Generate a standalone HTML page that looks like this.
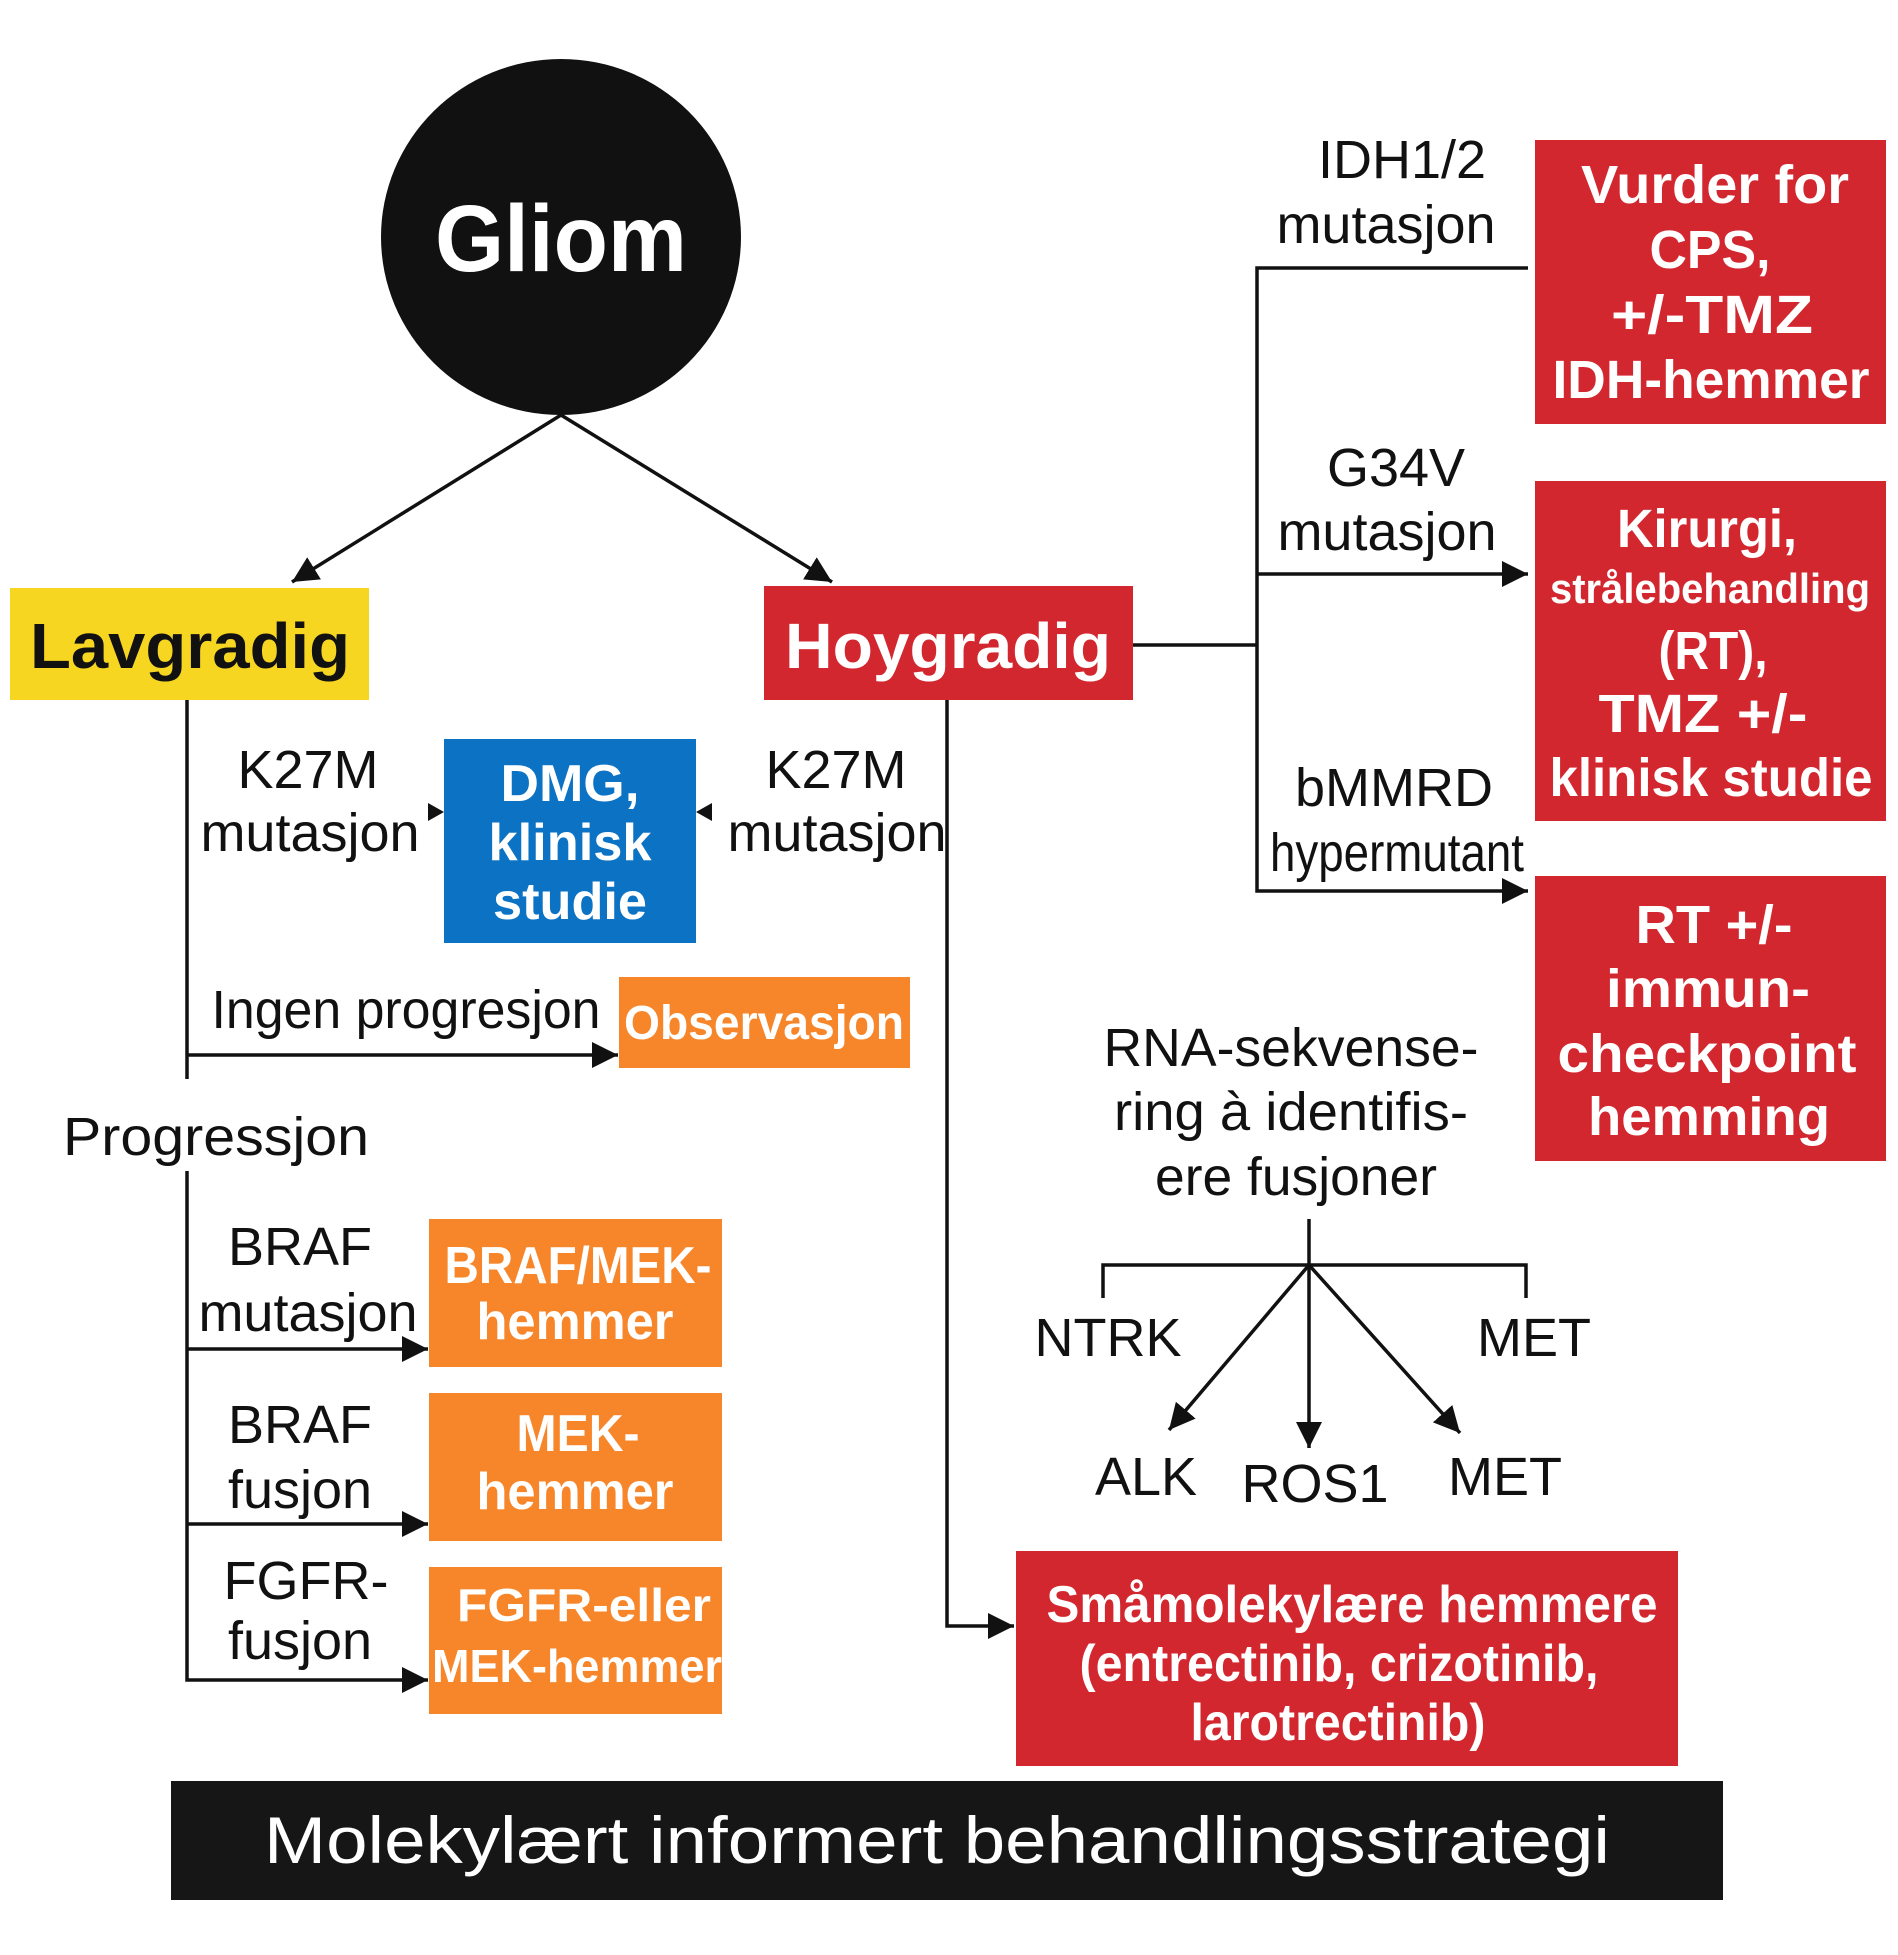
<!DOCTYPE html>
<html><head><meta charset="utf-8"><style>
html,body{margin:0;padding:0;background:#fff}
svg{display:block}
text{font-family:"Liberation Sans",sans-serif}
.l{font-size:54px;fill:#111;text-anchor:middle}
.b{font-size:52px;fill:#fff;font-weight:bold;text-anchor:middle}
</style></head><body>
<svg width="1898" height="1955" viewBox="0 0 1898 1955" xmlns="http://www.w3.org/2000/svg">
<defs>
<marker id="a" markerWidth="10" markerHeight="10" refX="9" refY="5" orient="auto" markerUnits="userSpaceOnUse" viewBox="0 0 10 10">
</marker>
<marker id="ar" viewBox="0 0 10 10" refX="10" refY="5" markerWidth="26" markerHeight="26" markerUnits="userSpaceOnUse" orient="auto"><path d="M0,0 L10,5 L0,10 z" fill="#111"/></marker>
</defs>
<g stroke="#111" stroke-width="3.5" fill="none">
<line x1="561" y1="415" x2="292" y2="582" marker-end="url(#ar)"/>
<line x1="561" y1="415" x2="832" y2="582" marker-end="url(#ar)"/>
<polyline points="187,700 187,1079"/>
<polyline points="187,1171 187,1680 428,1680" marker-end="url(#ar)"/>
<line x1="187" y1="1349" x2="428" y2="1349" marker-end="url(#ar)"/>
<line x1="187" y1="1524" x2="428" y2="1524" marker-end="url(#ar)"/>
<line x1="187" y1="1055" x2="618" y2="1055" marker-end="url(#ar)"/>
<polyline points="947,700 947,1626 1014,1626" marker-end="url(#ar)"/>
<line x1="1133" y1="645" x2="1257" y2="645"/>
<polyline points="1528,268 1257,268 1257,891 1528,891" marker-end="url(#ar)"/>
<line x1="1257" y1="574" x2="1528" y2="574" marker-end="url(#ar)"/>
<line x1="1309" y1="1219" x2="1309" y2="1265"/>
<polyline points="1103,1298 1103,1265 1526,1265 1526,1298"/>
<line x1="1309" y1="1265" x2="1169" y2="1430" marker-end="url(#ar)"/>
<line x1="1309" y1="1265" x2="1309" y2="1448" marker-end="url(#ar)"/>
<line x1="1309" y1="1265" x2="1460" y2="1433" marker-end="url(#ar)"/>
</g>
<path d="M428,803 L444,812 L428,821 z" fill="#111"/>
<path d="M712,803 L696,812 L712,821 z" fill="#111"/>
<ellipse cx="561" cy="237" rx="180" ry="178" fill="#111"/>
<text x="561" y="271" font-size="95" font-weight="bold" fill="#fff" text-anchor="middle" textLength="252" lengthAdjust="spacingAndGlyphs">Gliom</text>
<rect x="10" y="588" width="359" height="112" fill="#f6d621"/>
<text x="190" y="668" font-size="64" font-weight="bold" fill="#111" text-anchor="middle" textLength="320" lengthAdjust="spacingAndGlyphs">Lavgradig</text>
<rect x="764" y="586" width="369" height="114" fill="#d3272f"/>
<text x="948" y="668" font-size="64" font-weight="bold" fill="#fff" text-anchor="middle" textLength="326" lengthAdjust="spacingAndGlyphs">Hoygradig</text>
<text class="l" x="308" y="788">K27M</text><text class="l" x="310" y="851">mutasjon</text>
<text class="l" x="836" y="788">K27M</text><text class="l" x="837" y="851">mutasjon</text>
<rect x="444" y="739" width="252" height="204" fill="#0b72c4"/>
<text class="b" x="570" y="801" textLength="139" lengthAdjust="spacingAndGlyphs">DMG,</text>
<text class="b" x="570" y="860" textLength="163" lengthAdjust="spacingAndGlyphs">klinisk</text>
<text class="b" x="570" y="919" textLength="154" lengthAdjust="spacingAndGlyphs">studie</text>
<text class="l" x="406" y="1028" textLength="389" lengthAdjust="spacingAndGlyphs">Ingen progresjon</text>
<rect x="619" y="977" width="291" height="91" fill="#f7862a"/>
<text class="b" x="764" y="1039" font-size="48" style="font-size:48px" textLength="280" lengthAdjust="spacingAndGlyphs">Observasjon</text>
<text class="l" x="216" y="1155" textLength="306" lengthAdjust="spacingAndGlyphs">Progressjon</text>
<text class="l" x="300" y="1265">BRAF</text><text class="l" x="308" y="1331">mutasjon</text>
<text class="l" x="300" y="1443">BRAF</text><text class="l" x="300" y="1508">fusjon</text>
<text class="l" x="306" y="1599">FGFR-</text><text class="l" x="300" y="1659">fusjon</text>
<rect x="429" y="1219" width="293" height="148" fill="#f7862a"/>
<text class="b" x="578" y="1283" textLength="267" lengthAdjust="spacingAndGlyphs">BRAF/MEK-</text>
<text class="b" x="575" y="1339" textLength="197" lengthAdjust="spacingAndGlyphs">hemmer</text>
<rect x="429" y="1393" width="293" height="148" fill="#f7862a"/>
<text class="b" x="578" y="1451" textLength="123" lengthAdjust="spacingAndGlyphs">MEK-</text>
<text class="b" x="575" y="1509" textLength="197" lengthAdjust="spacingAndGlyphs">hemmer</text>
<rect x="429" y="1567" width="293" height="147" fill="#f7862a"/>
<text class="b" x="584" y="1621" style="font-size:46px" textLength="254" lengthAdjust="spacingAndGlyphs">FGFR-eller</text>
<text class="b" x="577" y="1682" style="font-size:46px" textLength="290" lengthAdjust="spacingAndGlyphs">MEK-hemmer</text>
<text class="l" x="1402" y="178">IDH1/2</text><text class="l" x="1386" y="243">mutasjon</text>
<text class="l" x="1396" y="486">G34V</text><text class="l" x="1387" y="550">mutasjon</text>
<text class="l" x="1394" y="806">bMMRD</text><text class="l" x="1397" y="871" textLength="254" lengthAdjust="spacingAndGlyphs">hypermutant</text>
<rect x="1535" y="140" width="351" height="284" fill="#d3272f"/>
<text class="b" x="1715" y="203" style="font-size:54px" textLength="268" lengthAdjust="spacingAndGlyphs">Vurder for</text>
<text class="b" x="1710" y="268" style="font-size:54px" textLength="121" lengthAdjust="spacingAndGlyphs">CPS,</text>
<text class="b" x="1712" y="333" style="font-size:54px" textLength="202" lengthAdjust="spacingAndGlyphs">+/-TMZ</text>
<text class="b" x="1711" y="398" style="font-size:54px" textLength="317" lengthAdjust="spacingAndGlyphs">IDH-hemmer</text>
<rect x="1535" y="481" width="351" height="340" fill="#d3272f"/>
<text class="b" x="1707" y="547" style="font-size:54px" textLength="180" lengthAdjust="spacingAndGlyphs">Kirurgi,</text>
<text class="b" x="1710" y="603" style="font-size:42px" textLength="320" lengthAdjust="spacingAndGlyphs">strålebehandling</text>
<text class="b" x="1713" y="669" style="font-size:54px" textLength="109" lengthAdjust="spacingAndGlyphs">(RT),</text>
<text class="b" x="1703" y="732" style="font-size:54px" textLength="209" lengthAdjust="spacingAndGlyphs">TMZ +/-</text>
<text class="b" x="1711" y="796" style="font-size:54px" textLength="323" lengthAdjust="spacingAndGlyphs">klinisk studie</text>
<rect x="1535" y="876" width="351" height="285" fill="#d3272f"/>
<text class="b" x="1714" y="943" style="font-size:54px" textLength="157" lengthAdjust="spacingAndGlyphs">RT +/-</text>
<text class="b" x="1708" y="1007" style="font-size:54px" textLength="204" lengthAdjust="spacingAndGlyphs">immun-</text>
<text class="b" x="1707" y="1072" style="font-size:54px" textLength="299" lengthAdjust="spacingAndGlyphs">checkpoint</text>
<text class="b" x="1709" y="1135" style="font-size:54px" textLength="242" lengthAdjust="spacingAndGlyphs">hemming</text>
<text class="l" x="1291" y="1066" textLength="375" lengthAdjust="spacingAndGlyphs">RNA-sekvense-</text>
<text class="l" x="1291" y="1130" textLength="354" lengthAdjust="spacingAndGlyphs">ring à identifis-</text>
<text class="l" x="1296" y="1195" textLength="282" lengthAdjust="spacingAndGlyphs">ere fusjoner</text>
<text class="l" x="1108" y="1356">NTRK</text><text class="l" x="1534" y="1356">MET</text>
<text class="l" x="1146" y="1495">ALK</text><text class="l" x="1315" y="1502">ROS1</text><text class="l" x="1505" y="1495">MET</text>
<rect x="1016" y="1551" width="662" height="215" fill="#d3272f"/>
<text class="b" x="1352" y="1622" textLength="611" lengthAdjust="spacingAndGlyphs">Småmolekylære hemmere</text>
<text class="b" x="1339" y="1681" textLength="519" lengthAdjust="spacingAndGlyphs">(entrectinib, crizotinib,</text>
<text class="b" x="1338" y="1740" textLength="295" lengthAdjust="spacingAndGlyphs">larotrectinib)</text>
<rect x="171" y="1781" width="1552" height="119" fill="#161616"/>
<text x="937" y="1863" font-size="66" fill="#fff" text-anchor="middle" textLength="1346" lengthAdjust="spacingAndGlyphs">Molekylært informert behandlingsstrategi</text>
</svg>
</body></html>
